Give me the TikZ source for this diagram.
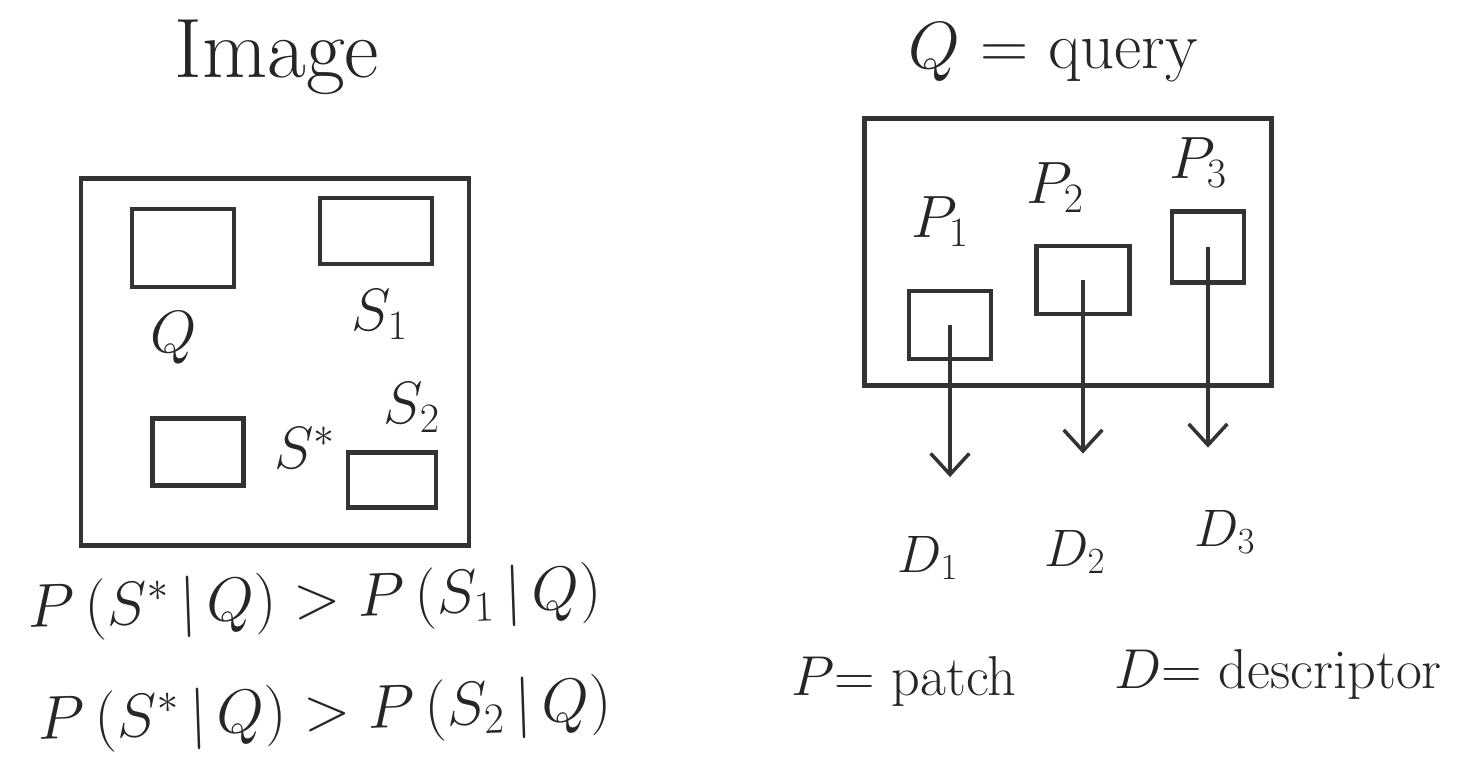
\RequirePackage{fix-cm}
\documentclass[tikz,border=0pt]{standalone}
\usepackage{amsmath}
\usepackage{amssymb}
\usepackage{tikz}
\usetikzlibrary{arrows.meta,positioning}

\begin{document}
\begin{tikzpicture}[x=0.02cm,y=-0.02cm,>={Straight Barb[length=12pt,width=22pt]},
frame/.style={draw=black!80,line width=2.6pt,inner sep=0pt},
patchbox/.style={draw=black!80,line width=2.6pt,inner sep=0pt},
lbl/.style={text=black!85,font=\fontsize{34}{40}\selectfont},
big/.style={text=black!85,font=\fontsize{38}{44}\selectfont},
formula/.style={text=black!85,font=\fontsize{35}{40}\selectfont,rotate=2},
note/.style={text=black!85,font=\fontsize{32}{38}\selectfont}]
\useasboundingbox (0,0) rectangle (1457,781);
% left: image with candidate regions
\node[big,font=\fontsize{48}{54}\selectfont,anchor=base] (image) at (277,77) {Image};
\node[frame,minimum width=7.76cm,minimum height=7.34cm] (img) at (275,362) {};
\node[patchbox,minimum width=2.04cm,minimum height=1.56cm] (qbox) at (183,248) {};
\node[patchbox,minimum width=2.24cm,minimum height=1.32cm] (s1box) at (376,231) {};
\node[patchbox,minimum width=1.82cm,minimum height=1.34cm] (sstarbox) at (198,452) {};
\node[patchbox,minimum width=1.76cm,minimum height=1.1cm] (s2box) at (392,480) {};
\node[lbl] (q) at (174,338) {$Q$};
\node[lbl] (s1) at (380,315) {$S_1$};
\node[lbl] (sstar) at (305,448) {$S^*$};
\node[lbl] (s2) at (412,408) {$S_2$};
\node[formula,anchor=base west] (ineq1) at (22,628) {$P\,(S^*\,|\,Q) > P\,(S_1\,|\,Q)$};
\node[formula,anchor=base west] (ineq2) at (32,740) {$P\,(S^*\,|\,Q) > P\,(S_2\,|\,Q)$};
% right: query patches and descriptors
\node[big,anchor=base] (query) at (1053,68) {$Q$ = query};
\node[frame,minimum width=8.14cm,minimum height=5.34cm] (qimg) at (1068,252) {};
\node[patchbox,minimum width=1.64cm,minimum height=1.36cm] (p1box) at (950,325) {};
\node[patchbox,minimum width=1.86cm,minimum height=1.36cm] (p2box) at (1083,280) {};
\node[patchbox,minimum width=1.44cm,minimum height=1.42cm] (p3box) at (1208,247) {};
\node[lbl] (p1) at (940,222) {$P_1$};
\node[lbl] (p2) at (1055,188) {$P_2$};
\node[lbl] (p3) at (1198,163) {$P_3$};
\node[lbl,font=\fontsize{30}{36}\selectfont] (d1) at (928,558) {$D_1$};
\node[lbl,font=\fontsize{30}{36}\selectfont] (d2) at (1075,552) {$D_2$};
\node[lbl,font=\fontsize{30}{36}\selectfont] (d3) at (1225,532) {$D_3$};
\draw[->,draw=black!80,line width=2pt,shorten >=30pt] (p1box.center) -- (p1box.center |- d1.north);
\draw[->,draw=black!80,line width=2pt,shorten >=40pt] (p2box.center) -- (p2box.center |- d2.north);
\draw[->,draw=black!80,line width=2pt,shorten >=32pt] (p3box.center) -- (p3box.center |- d3.north);
\node[note,anchor=base west] (ptext) at (785,695) {$P$= patch};
\node[note,anchor=base west] (dtext) at (1108,688) {$D$= descriptor};
\end{tikzpicture}
\end{document}
